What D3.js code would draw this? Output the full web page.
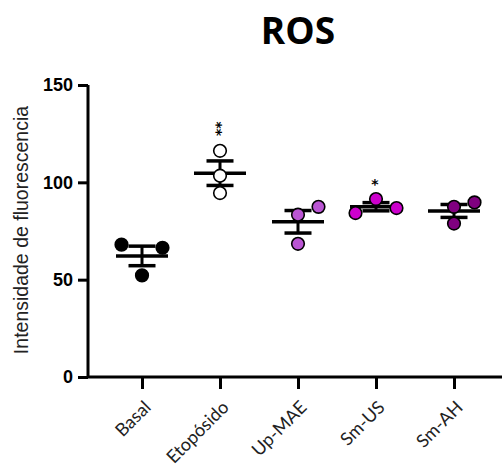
<!DOCTYPE html>
<html>
<head>
<meta charset="utf-8">
<script src="https://cdn.jsdelivr.net/npm/d3@7"></script>
<style>
  body { margin: 0; background: #fff; }
</style>
</head>
<body>
<script>
// data
var categories = ["Basal", "Etopósido", "Up-MAE", "Sm-US", "Sm-AH"];
var values = [
    [68, 66.4, 52.2],
    [116.2, 103.4, 94.5],
    [83.4, 87.4, 68.4],
    [84.2, 91.4, 86.8],
    [87.4, 89.7, 78.8]
];
// column slot of each point in the scatter (-1 left, 0 centre, 1 right)
var slots = [
    [-1, 1, 0],
    [0, 0, 0],
    [0, 1, 0],
    [-1, 0, 1],
    [0, 1, 0]
];
var stars = ["", "**", "", "*", ""];
var yTicks = [0, 50, 100, 150];
var fills = ["#000000", "#ffffff", "#ba55d3", "#cc00cc", "#800080"];

var width = 502, height = 471;

var svg = d3.select("body").append("svg")
    .attr("width", width)
    .attr("height", height);

var y = d3.scaleLinear().domain([0, 150]).range([377, 85]);
var x = d3.scalePoint().domain(categories).range([142, 454]);

var slotGap = 20.5;
var ink = "#000";

// title
svg.append("text")
    .attr("x", 298)
    .attr("y", 44)
    .attr("text-anchor", "middle")
    .style("font-family", "'Open Sans', sans-serif")
    .style("font-weight", "bold")
    .style("font-size", "37px")
    .text("ROS");

// y axis
var yAxis = svg.append("g")
    .attr("transform", "translate(88,0)")
    .call(d3.axisLeft(y).tickValues(yTicks).tickSize(10).tickSizeOuter(0).tickPadding(5));
yAxis.select(".domain").attr("stroke-width", 3).attr("d", "M0," + y(150) + "V" + y(0));
yAxis.selectAll(".tick line").attr("stroke-width", 3);
yAxis.selectAll("text")
    .style("font-family", "'Liberation Sans', Arial, sans-serif")
    .style("font-weight", "bold")
    .style("font-size", "18px")
    .attr("fill", ink);

svg.append("text")
    .attr("transform", "translate(28," + (y(75) - 1) + ") rotate(-90)")
    .attr("text-anchor", "middle")
    .style("font-family", "'Liberation Sans', Arial, sans-serif")
    .style("font-size", "19.5px")
    .attr("fill", "#222")
    .text("Intensidade de fluorescencia");

// x axis
var xAxis = svg.append("g")
    .attr("transform", "translate(0," + y(0) + ")")
    .call(d3.axisBottom(x).tickSize(12).tickSizeOuter(0));
xAxis.select(".domain").remove();
xAxis.append("line")
    .attr("x1", 87).attr("x2", width)
    .attr("stroke", ink).attr("stroke-width", 3);
xAxis.selectAll(".tick line").attr("stroke-width", 3);
xAxis.selectAll("text")
    .attr("text-anchor", "end")
    .attr("transform", "translate(5,27) rotate(-45)")
    .attr("dy", "0.35em")
    .attr("y", 0)
    .style("font-family", "Lato, sans-serif")
    .style("font-size", "18px")
    .attr("fill", "#222");

// groups
var groups = svg.selectAll("g.grp")
    .data(categories)
    .enter().append("g")
    .attr("class", "grp")
    .attr("transform", function(d) { return "translate(" + x(d) + ",0)"; });

groups.each(function(cat, i) {
    var g = d3.select(this);
    var v = values[i];
    var m = d3.mean(v);
    var sem = d3.deviation(v) / Math.sqrt(v.length);

    g.append("line")
        .attr("x1", 0).attr("x2", 0)
        .attr("y1", y(m + sem)).attr("y2", y(m - sem))
        .attr("stroke", ink).attr("stroke-width", 3);
    [m + sem, m - sem].forEach(function(e) {
        g.append("line")
            .attr("x1", -13.5).attr("x2", 13.5)
            .attr("y1", y(e)).attr("y2", y(e))
            .attr("stroke", ink).attr("stroke-width", 3.5);
    });
    g.append("line")
        .attr("x1", -26).attr("x2", 26)
        .attr("y1", y(m)).attr("y2", y(m))
        .attr("stroke", ink).attr("stroke-width", 3.5);

    g.selectAll("circle")
        .data(v)
        .enter().append("circle")
        .attr("cx", function(d, j) { return slots[i][j] * slotGap; })
        .attr("cy", function(d) { return y(d); })
        .attr("r", 6.3)
        .attr("fill", fills[i])
        .attr("stroke", ink)
        .attr("stroke-width", 1.6);

    if (stars[i]) {
        var top = d3.max(v);
        var st = g.append("text")
            .style("font-family", "'DejaVu Sans', sans-serif")
            .style("font-size", "14px")
            .style("font-weight", "bold")
            .attr("fill", ink)
            .attr("text-anchor", "middle")
            .text(stars[i]);
        if (stars[i].length > 1) {
            st.attr("transform", "translate(-8," + (y(top) - 22) + ") rotate(90)");
        } else {
            st.attr("x", -1)
              .attr("y", y(top) - 10);
        }
    }
});
</script>
</body>
</html>
